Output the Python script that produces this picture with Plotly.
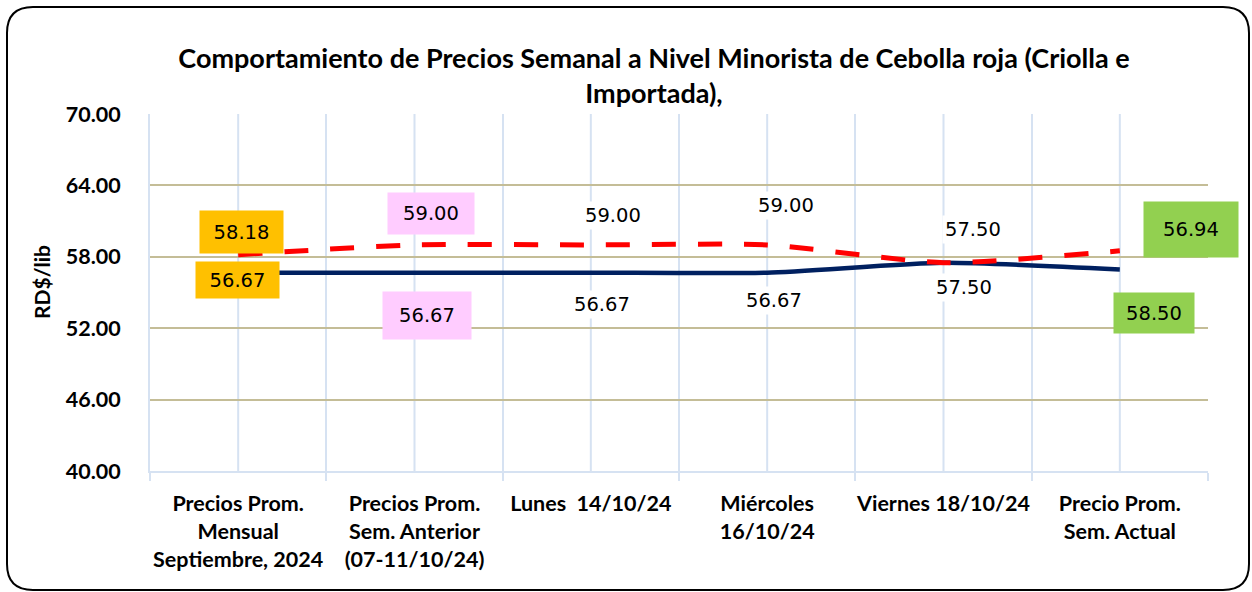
import plotly.graph_objects as go

categories = [
    "Precios Prom.<br>Mensual<br>Septiembre, 2024",
    "Precios Prom.<br>Sem. Anterior<br>(07-11/10/24)",
    "Lunes  14/10/24",
    "Miércoles<br>16/10/24",
    "Viernes 18/10/24",
    "Precio Prom.<br>Sem. Actual",
]
serie_importada = [58.18, 59.00, 59.00, 59.00, 57.50, 58.50]   # dashed red
serie_criolla = [56.67, 56.67, 56.67, 56.67, 57.50, 56.94]     # solid navy
y_ticks = [40, 46, 52, 58, 64, 70]

# layout geometry (pixels)
W, H = 1252, 592
L, R, T, B = 150, 44, 114, 121
PW, PH = W - L - R, H - T - B

FONT = "Lato"
NAVY = "#002060"
RED = "#FF0000"
GRID_V = "#D6E2F2"
GRID_H = "#C4BD97"

# label styles (offsets in px, box colours, box sizes)
imp_style = [
    dict(dx=3, dy=23, bg="#FFC000", w=83, h=42),
    dict(dx=16, dy=31, bg="#FFCCFF", w=86, h=41),
    dict(dx=22, dy=29, bg=None),
    dict(dx=19, dy=39, bg=None),
    dict(dx=29, dy=33, bg=None),
    dict(dx=34, dy=-62, bg="#92D050", w=80, h=40),
]
cri_style = [
    dict(dx=-1, dy=-7, bg="#FFC000", w=83, h=36),
    dict(dx=12, dy=-43, bg="#FFCCFF", w=88, h=47),
    dict(dx=11, dy=-32, bg=None),
    dict(dx=7, dy=-28, bg=None),
    dict(dx=20, dy=-25, bg=None),
    dict(dx=71, dy=40, bg="#92D050", w=94, h=55),
]

fig = go.Figure()
fig.add_trace(go.Scatter(
    x=categories, y=serie_criolla, mode="lines",
    line=dict(color=NAVY, width=4.5, shape="spline", smoothing=0.6),
    showlegend=False, hoverinfo="skip",
))
fig.add_trace(go.Scatter(
    x=categories, y=serie_importada, mode="lines",
    line=dict(color=RED, width=5, shape="spline", smoothing=0.6, dash="24px,22px"),
    showlegend=False, hoverinfo="skip",
))

annotations = []
for series, styles in ((serie_importada, imp_style), (serie_criolla, cri_style)):
    for cat, val, st in zip(categories, series, styles):
        a = dict(
            x=cat, y=val, xref="x", yref="y", text=f"{val:.2f}",
            showarrow=False, xshift=st["dx"], yshift=st["dy"],
            font=dict(family="DejaVu Sans", size=19.5, color="#000000"),
        )
        if st["bg"]:
            a.update(bgcolor=st["bg"], width=st["w"], height=st["h"], borderpad=0)
        else:
            a.update(bgcolor="#FFFFFF", borderpad=2)
        annotations.append(a)

# y axis title
annotations.append(dict(
    x=(41 - L) / PW, y=(H - B - 282) / PH, xref="paper", yref="paper",
    xanchor="center", yanchor="middle",
    text="<b>RD$/lib</b>", textangle=-90, showarrow=False,
    font=dict(family=FONT, size=21, color="#000000"),
))

# vertical gridlines at category centres
shapes = []
for cat in categories:
    shapes.append(dict(type="line", xref="x", yref="paper", x0=cat, x1=cat,
                       y0=0, y1=1, line=dict(color=GRID_V, width=2), layer="below"))


def px(xp):
    return (xp - L) / PW


def py(yp):
    return (H - B - yp) / PH


# rounded outer border
x0b, y0b, x1b, y1b, r = 7, 7, 1249, 590, 26
path = (
    f"M {px(x0b + r)},{py(y0b)} L {px(x1b - r)},{py(y0b)} "
    f"Q {px(x1b)},{py(y0b)} {px(x1b)},{py(y0b + r)} "
    f"L {px(x1b)},{py(y1b - r)} Q {px(x1b)},{py(y1b)} {px(x1b - r)},{py(y1b)} "
    f"L {px(x0b + r)},{py(y1b)} Q {px(x0b)},{py(y1b)} {px(x0b)},{py(y1b - r)} "
    f"L {px(x0b)},{py(y0b + r)} Q {px(x0b)},{py(y0b)} {px(x0b + r)},{py(y0b)} Z"
)
shapes.append(dict(type="path", xref="paper", yref="paper", path=path,
                   line=dict(color="#000000", width=2), layer="above"))

fig.update_layout(
    width=W, height=H,
    margin=dict(l=L, r=R, t=T, b=B, autoexpand=False),
    paper_bgcolor="#FFFFFF", plot_bgcolor="#FFFFFF",
    title=dict(
        text="<b>Comportamiento de Precios Semanal a Nivel Minorista de Cebolla roja (Criolla e<br>Importada),</b>",
        x=px(654), xref="paper", xanchor="center",
        y=1 - 67.5 / H, yref="container", yanchor="middle",
        font=dict(family=FONT, size=27, color="#000000"),
    ),
    xaxis=dict(
        type="category", range=[-0.5, 5.5],
        tickson="boundaries", ticks="outside", ticklen=8, tickwidth=2, tickcolor=GRID_V,
        showgrid=True, gridcolor=GRID_V, gridwidth=2,
        showline=True, linecolor=GRID_V, linewidth=2,
        tickfont=dict(family=FONT, size=21.5, color="#000000", weight="bold"),
        tickangle=0, automargin=False,
        ticklabelstandoff=12,
        fixedrange=True,
    ),
    yaxis=dict(
        range=[40, 70], tickvals=y_ticks, ticktext=[f"{v:.2f}" for v in y_ticks],
        showgrid=True, gridcolor=GRID_H, gridwidth=2,
        showline=True, linecolor=GRID_V, linewidth=2,
        zeroline=False, automargin=False,
        tickfont=dict(family=FONT, size=21.5, color="#000000", weight="bold"),
        ticklabelstandoff=23,
        fixedrange=True,
    ),
    annotations=annotations,
    shapes=shapes,
)

fig.write_html("out.html", config={"displayModeBar": False},
               post_script="document.body.style.margin='0';")
